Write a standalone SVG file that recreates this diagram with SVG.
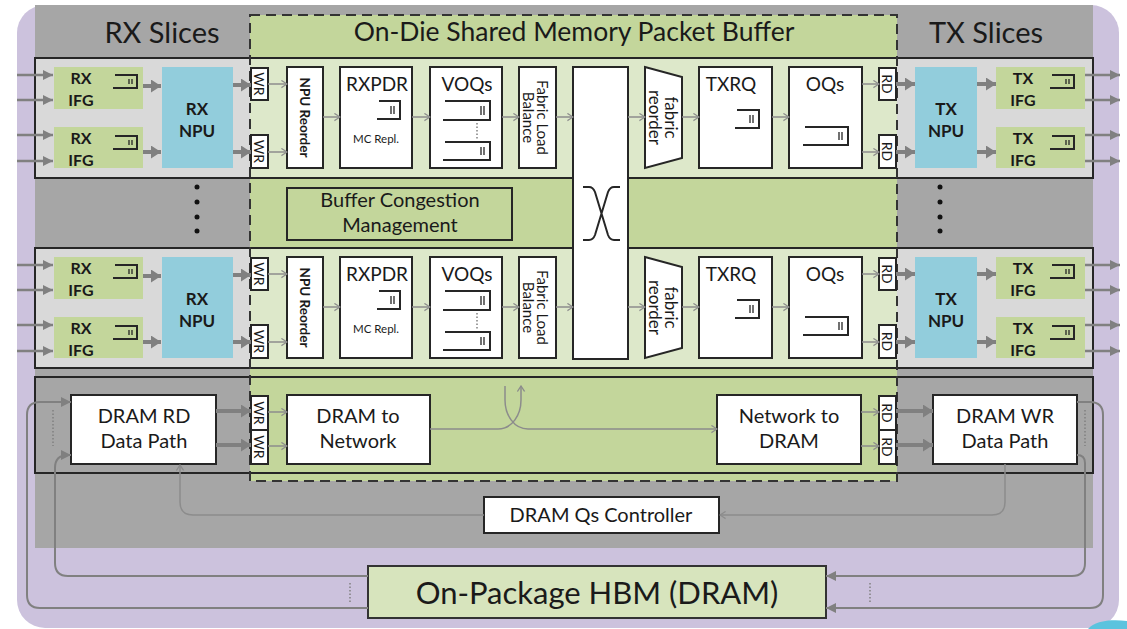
<svg xmlns="http://www.w3.org/2000/svg" width="1127" height="629" viewBox="0 0 1127 629">
<defs>
<style>
.t{font-family:Lato,"Liberation Sans",sans-serif;fill:#1a1a1a;text-anchor:middle}
.b{font-weight:bold}
.box{fill:#fff;stroke:#262626;stroke-width:2}
.ifg{fill:#c3d69b}
.npu{fill:#92cddc}
.q{fill:none;stroke:#262626;stroke-width:2}
.qb{fill:none;stroke:#262626;stroke-width:1.3}
.thick{fill:none;stroke:#808080;stroke-width:4;marker-end:url(#ah)}
.io{fill:none;stroke:#808080;stroke-width:2.5;marker-end:url(#ah2)}
.thin{fill:none;stroke:#8c8c8c;stroke-width:1.5;marker-end:url(#ch)}
.hbm{fill:none;stroke:#808080;stroke-width:2;marker-end:url(#ah2)}
.dot{fill:none;stroke:#808080;stroke-width:1.5;stroke-dasharray:1.5 2}
</style>
<marker id="ah" viewBox="0 0 10 10" refX="10" refY="5" markerWidth="10" markerHeight="13" markerUnits="userSpaceOnUse" orient="auto" preserveAspectRatio="none"><path d="M0,0 L10,5 L0,10 Z" fill="#808080"/></marker>
<marker id="ah2" viewBox="0 0 10 10" refX="10" refY="5" markerWidth="10" markerHeight="10" markerUnits="userSpaceOnUse" orient="auto" preserveAspectRatio="none"><path d="M0,0 L10,5 L0,10 Z" fill="#808080"/></marker>
<marker id="ch" viewBox="0 0 10 10" refX="9" refY="5" markerWidth="7" markerHeight="9" markerUnits="userSpaceOnUse" orient="auto" preserveAspectRatio="none"><path d="M1,1 L9,5 L1,9" fill="none" stroke="#8c8c8c" stroke-width="1.5"/></marker>
</defs>

<g id="background">
<rect x="0" y="0" width="1127" height="629" fill="#fff"/>
<rect x="17" y="5" width="1102" height="623" rx="28" fill="#ccc2dd"/>
<path d="M1088,629 C1095,621 1110,619 1127,621 V629 Z" fill="#5bc3de"/>
<rect x="35" y="5" width="1058" height="543" fill="#a6a6a6"/>
<rect x="250" y="15" width="647" height="466" fill="#c3d69b"/>
<rect x="35" y="58" width="215" height="120" fill="#d9d9d9"/>
<rect x="250" y="58" width="647" height="120" fill="#dde8ca"/>
<rect x="897" y="58" width="196" height="120" fill="#d9d9d9"/>
<rect x="35" y="58" width="1058" height="120" fill="none" stroke="#262626" stroke-width="2"/>
<rect x="35" y="248" width="215" height="120" fill="#d9d9d9"/>
<rect x="250" y="248" width="647" height="120" fill="#dde8ca"/>
<rect x="897" y="248" width="196" height="120" fill="#d9d9d9"/>
<rect x="35" y="248" width="1058" height="120" fill="none" stroke="#262626" stroke-width="2"/>
<rect x="35" y="377" width="1058" height="96" fill="none" stroke="#262626" stroke-width="2"/>
<rect x="250" y="15" width="647" height="466" fill="none" stroke="#333" stroke-width="2" stroke-dasharray="10 6"/>
<text class="t" x="162" y="43" font-size="29">RX Slices</text>
<text class="t" x="574" y="41" font-size="26.5">On-Die Shared Memory Packet Buffer</text>
<text class="t" x="986" y="43" font-size="29">TX Slices</text>
<g fill="#111">
<circle cx="197" cy="187" r="2.5"/><circle cx="197" cy="202" r="2.5"/><circle cx="197" cy="217" r="2.5"/><circle cx="197" cy="231" r="2.5"/>
<circle cx="940" cy="187" r="2.5"/><circle cx="940" cy="202" r="2.5"/><circle cx="940" cy="217" r="2.5"/><circle cx="940" cy="231" r="2.5"/>
</g>
</g>

<g id="rx-ifg-1a"><rect class="ifg" x="54" y="67" width="89" height="42"/><text class="t b" x="81" y="84" font-size="16">RX</text><text class="t b" x="81" y="106" font-size="16">IFG</text><path class="q" d="M115,75 H137 V88 H113"/><path class="qb" d="M129,79 V84 M132,79 V84"/></g>
<g id="rx-ifg-1b"><rect class="ifg" x="54" y="127" width="89" height="41"/><text class="t b" x="81" y="144" font-size="16">RX</text><text class="t b" x="81" y="166" font-size="16">IFG</text><path class="q" d="M115,136 H137 V149 H113"/><path class="qb" d="M129,140 V145 M132,140 V145"/></g>
<g id="rx-npu-1"><rect class="npu" x="162" y="67" width="71" height="101"/><text class="t b" x="197" y="115" font-size="17">RX</text><text class="t b" x="197" y="137" font-size="17">NPU</text></g>
<g id="wr-1a"><rect class="box" x="251" y="68" width="17" height="32" stroke-width="1.5"/><text class="t" font-size="14" transform="translate(259.5,84) rotate(90)" dominant-baseline="central">WR</text></g>
<g id="wr-1b"><rect class="box" x="251" y="135" width="17" height="33" stroke-width="1.5"/><text class="t" font-size="14" transform="translate(259.5,151.5) rotate(90)" dominant-baseline="central">WR</text></g>
<g id="npu-reorder-1"><rect class="box" x="287" y="67" width="36" height="101"/><text class="t b" font-size="13.5" transform="translate(305,117.5) rotate(90)" dominant-baseline="central">NPU Reorder</text></g>
<g id="rxpdr-1"><rect class="box" x="340" y="67" width="72" height="101"/><text class="t" x="377" y="91" font-size="19">RXPDR</text><path class="q" d="M379,101 H400 V119 H377"/><path class="qb" d="M391,106 V114 M394,106 V114"/><text class="t" x="376" y="143" font-size="11.5">MC Repl.</text></g>
<g id="voqs-1"><rect class="box" x="430" y="67" width="72" height="101"/><text class="t" x="467" y="91" font-size="19">VOQs</text><path class="q" d="M445,101 H490 V120 H443"/><path class="qb" d="M481,106 V115 M484,106 V115"/><path class="dot" d="M477,123 V140" stroke="#333"/><path class="q" d="M445,142 H490 V160 H443"/><path class="qb" d="M481,147 V155 M484,147 V155"/></g>
<g id="fabric-lb-1"><rect class="box" x="519" y="67" width="37" height="101"/><text class="t" font-size="15" transform="translate(543,117.5) rotate(90)" dominant-baseline="central">Fabric Load</text><text class="t" font-size="15" transform="translate(529,117.5) rotate(90)" dominant-baseline="central">Balance</text></g>
<g id="fabric-reorder-1"><polygon points="645,67 682,77 682,158 645,168" fill="#fff" stroke="#262626" stroke-width="2"/><text class="t" font-size="17" transform="translate(671,117.5) rotate(90)" dominant-baseline="central">fabric</text><text class="t" font-size="17" transform="translate(655,117.5) rotate(90)" dominant-baseline="central">reorder</text></g>
<g id="txrq-1"><rect class="box" x="699" y="67" width="73" height="101"/><text class="t" x="731" y="91" font-size="19">TXRQ</text><path class="q" d="M737,110 H759 V128 H735"/><path class="qb" d="M750,115 V123 M753,115 V123"/></g>
<g id="oqs-1"><rect class="box" x="789" y="67" width="73" height="101"/><text class="t" x="825" y="91" font-size="19">OQs</text><path class="q" d="M805,127 H848 V145 H803"/><path class="qb" d="M839,132 V140 M842,132 V140"/></g>
<g id="rd-1a"><rect class="box" x="879" y="68" width="17" height="32" stroke-width="1.5"/><text class="t" font-size="14" transform="translate(887.5,84) rotate(90)" dominant-baseline="central">RD</text></g>
<g id="rd-1b"><rect class="box" x="879" y="135" width="17" height="33" stroke-width="1.5"/><text class="t" font-size="14" transform="translate(887.5,151.5) rotate(90)" dominant-baseline="central">RD</text></g>
<g id="tx-npu-1"><rect class="npu" x="915" y="67" width="62" height="101"/><text class="t b" x="946" y="115" font-size="17">TX</text><text class="t b" x="946" y="137" font-size="17">NPU</text></g>
<g id="tx-ifg-1a"><rect class="ifg" x="996" y="67" width="89" height="42"/><text class="t b" x="1023" y="84" font-size="16">TX</text><text class="t b" x="1023" y="106" font-size="16">IFG</text><path class="q" d="M1052,75 H1074 V88 H1050"/><path class="qb" d="M1066,79 V84 M1069,79 V84"/></g>
<g id="tx-ifg-1b"><rect class="ifg" x="996" y="127" width="89" height="41"/><text class="t b" x="1023" y="144" font-size="16">TX</text><text class="t b" x="1023" y="166" font-size="16">IFG</text><path class="q" d="M1052,136 H1074 V149 H1050"/><path class="qb" d="M1066,140 V145 M1069,140 V145"/></g>

<g id="rx-ifg-2a" transform="translate(0,190)"><rect class="ifg" x="54" y="67" width="89" height="42"/><text class="t b" x="81" y="84" font-size="16">RX</text><text class="t b" x="81" y="106" font-size="16">IFG</text><path class="q" d="M115,75 H137 V88 H113"/><path class="qb" d="M129,79 V84 M132,79 V84"/></g>
<g id="rx-ifg-2b" transform="translate(0,190)"><rect class="ifg" x="54" y="127" width="89" height="41"/><text class="t b" x="81" y="144" font-size="16">RX</text><text class="t b" x="81" y="166" font-size="16">IFG</text><path class="q" d="M115,136 H137 V149 H113"/><path class="qb" d="M129,140 V145 M132,140 V145"/></g>
<g id="rx-npu-2" transform="translate(0,190)"><rect class="npu" x="162" y="67" width="71" height="101"/><text class="t b" x="197" y="115" font-size="17">RX</text><text class="t b" x="197" y="137" font-size="17">NPU</text></g>
<g id="wr-2a" transform="translate(0,190)"><rect class="box" x="251" y="68" width="17" height="32" stroke-width="1.5"/><text class="t" font-size="14" transform="translate(259.5,84) rotate(90)" dominant-baseline="central">WR</text></g>
<g id="wr-2b" transform="translate(0,190)"><rect class="box" x="251" y="135" width="17" height="33" stroke-width="1.5"/><text class="t" font-size="14" transform="translate(259.5,151.5) rotate(90)" dominant-baseline="central">WR</text></g>
<g id="npu-reorder-2" transform="translate(0,190)"><rect class="box" x="287" y="67" width="36" height="101"/><text class="t b" font-size="13.5" transform="translate(305,117.5) rotate(90)" dominant-baseline="central">NPU Reorder</text></g>
<g id="rxpdr-2" transform="translate(0,190)"><rect class="box" x="340" y="67" width="72" height="101"/><text class="t" x="377" y="91" font-size="19">RXPDR</text><path class="q" d="M379,101 H400 V119 H377"/><path class="qb" d="M391,106 V114 M394,106 V114"/><text class="t" x="376" y="143" font-size="11.5">MC Repl.</text></g>
<g id="voqs-2" transform="translate(0,190)"><rect class="box" x="430" y="67" width="72" height="101"/><text class="t" x="467" y="91" font-size="19">VOQs</text><path class="q" d="M445,101 H490 V120 H443"/><path class="qb" d="M481,106 V115 M484,106 V115"/><path class="dot" d="M477,123 V140" stroke="#333"/><path class="q" d="M445,142 H490 V160 H443"/><path class="qb" d="M481,147 V155 M484,147 V155"/></g>
<g id="fabric-lb-2" transform="translate(0,190)"><rect class="box" x="519" y="67" width="37" height="101"/><text class="t" font-size="15" transform="translate(543,117.5) rotate(90)" dominant-baseline="central">Fabric Load</text><text class="t" font-size="15" transform="translate(529,117.5) rotate(90)" dominant-baseline="central">Balance</text></g>
<g id="fabric-reorder-2" transform="translate(0,190)"><polygon points="645,67 682,77 682,158 645,168" fill="#fff" stroke="#262626" stroke-width="2"/><text class="t" font-size="17" transform="translate(671,117.5) rotate(90)" dominant-baseline="central">fabric</text><text class="t" font-size="17" transform="translate(655,117.5) rotate(90)" dominant-baseline="central">reorder</text></g>
<g id="txrq-2" transform="translate(0,190)"><rect class="box" x="699" y="67" width="73" height="101"/><text class="t" x="731" y="91" font-size="19">TXRQ</text><path class="q" d="M737,110 H759 V128 H735"/><path class="qb" d="M750,115 V123 M753,115 V123"/></g>
<g id="oqs-2" transform="translate(0,190)"><rect class="box" x="789" y="67" width="73" height="101"/><text class="t" x="825" y="91" font-size="19">OQs</text><path class="q" d="M805,127 H848 V145 H803"/><path class="qb" d="M839,132 V140 M842,132 V140"/></g>
<g id="rd-2a" transform="translate(0,190)"><rect class="box" x="879" y="68" width="17" height="32" stroke-width="1.5"/><text class="t" font-size="14" transform="translate(887.5,84) rotate(90)" dominant-baseline="central">RD</text></g>
<g id="rd-2b" transform="translate(0,190)"><rect class="box" x="879" y="135" width="17" height="33" stroke-width="1.5"/><text class="t" font-size="14" transform="translate(887.5,151.5) rotate(90)" dominant-baseline="central">RD</text></g>
<g id="tx-npu-2" transform="translate(0,190)"><rect class="npu" x="915" y="67" width="62" height="101"/><text class="t b" x="946" y="115" font-size="17">TX</text><text class="t b" x="946" y="137" font-size="17">NPU</text></g>
<g id="tx-ifg-2a" transform="translate(0,190)"><rect class="ifg" x="996" y="67" width="89" height="42"/><text class="t b" x="1023" y="84" font-size="16">TX</text><text class="t b" x="1023" y="106" font-size="16">IFG</text><path class="q" d="M1052,75 H1074 V88 H1050"/><path class="qb" d="M1066,79 V84 M1069,79 V84"/></g>
<g id="tx-ifg-2b" transform="translate(0,190)"><rect class="ifg" x="996" y="127" width="89" height="41"/><text class="t b" x="1023" y="144" font-size="16">TX</text><text class="t b" x="1023" y="166" font-size="16">IFG</text><path class="q" d="M1052,136 H1074 V149 H1050"/><path class="qb" d="M1066,140 V145 M1069,140 V145"/></g>

<g id="crossbar"><rect class="box" x="573" y="67" width="55" height="292"/><path d="M583,187 H589 Q593,187 595,192 L608,235 Q610,240 614,240 H620 M620,187 H614 Q610,187 608,192 L595,235 Q593,240 589,240 H583" fill="none" stroke="#262626" stroke-width="2"/></g>
<g id="buffer-congestion"><rect x="287" y="188" width="225" height="52" fill="#c3d69b" stroke="#262626" stroke-width="2"/><text class="t" x="400" y="207" font-size="20">Buffer Congestion</text><text class="t" x="400" y="232" font-size="20">Management</text></g>

<g id="dram-rd"><rect class="box" x="71" y="395" width="145" height="69"/><text class="t" x="144" y="423" font-size="20">DRAM RD</text><text class="t" x="144" y="448" font-size="20">Data Path</text></g>
<g id="wr-d1"><rect class="box" x="251" y="396" width="17" height="34" stroke-width="1.5"/><text class="t" font-size="14" transform="translate(259.5,413) rotate(90)" dominant-baseline="central">WR</text></g>
<g id="wr-d2"><rect class="box" x="251" y="430" width="17" height="34" stroke-width="1.5"/><text class="t" font-size="14" transform="translate(259.5,447) rotate(90)" dominant-baseline="central">WR</text></g>
<g id="dram-to-network"><rect class="box" x="287" y="395" width="143" height="69"/><text class="t" x="358" y="423" font-size="20">DRAM to</text><text class="t" x="358" y="448" font-size="20">Network</text></g>
<g id="network-to-dram"><rect class="box" x="717" y="395" width="144" height="69"/><text class="t" x="789" y="423" font-size="20">Network to</text><text class="t" x="789" y="448" font-size="20">DRAM</text></g>
<g id="rd-d1"><rect class="box" x="879" y="396" width="17" height="34" stroke-width="1.5"/><text class="t" font-size="14" transform="translate(887.5,413) rotate(90)" dominant-baseline="central">RD</text></g>
<g id="rd-d2"><rect class="box" x="879" y="430" width="17" height="34" stroke-width="1.5"/><text class="t" font-size="14" transform="translate(887.5,447) rotate(90)" dominant-baseline="central">RD</text></g>
<g id="dram-wr"><rect class="box" x="933" y="395" width="144" height="69"/><text class="t" x="1005" y="423" font-size="20">DRAM WR</text><text class="t" x="1005" y="448" font-size="20">Data Path</text></g>
<g id="dram-qs-controller"><rect class="box" x="484" y="497" width="235" height="36"/><text class="t" x="601" y="522" font-size="20">DRAM Qs Controller</text></g>
<g id="hbm"><rect x="368" y="566" width="458" height="52" fill="#d7e4bd" stroke="#333" stroke-width="2"/><text class="t" x="597" y="604" font-size="31">On-Package HBM (DRAM)</text></g>

<g id="connectors">
<g id="row1-conn">
<path class="io" d="M17,75 H53"/><path class="io" d="M17,100 H53"/><path class="io" d="M17,135 H53"/><path class="io" d="M17,161 H53"/>
<path class="thick" d="M143,86 H161"/><path class="thick" d="M143,152 H161"/>
<path class="thick" d="M233,85 H251"/><path class="thick" d="M233,152 H251"/>
<path class="thin" d="M268,84 H287"/><path class="thin" d="M268,152 H287"/>
<path class="thin" d="M323,117 H340"/><path class="thin" d="M412,117 H430"/><path class="thin" d="M502,117 H519"/><path class="thin" d="M556,117 H573"/>
<path class="thin" d="M628,117 H645"/><path class="thin" d="M682,117 H699"/><path class="thin" d="M772,117 H789"/>
<path class="thin" d="M862,84 H879"/><path class="thin" d="M862,152 H879"/>
<path class="thick" d="M896,84 H915"/><path class="thick" d="M896,152 H915"/>
<path class="thick" d="M977,84 H996"/><path class="thick" d="M977,152 H996"/>
<path class="io" d="M1085,75 H1120"/><path class="io" d="M1085,100 H1120"/><path class="io" d="M1085,135 H1120"/><path class="io" d="M1085,161 H1120"/>
</g>
<g id="row2-conn" transform="translate(0,190)">
<path class="io" d="M17,75 H53"/><path class="io" d="M17,100 H53"/><path class="io" d="M17,135 H53"/><path class="io" d="M17,161 H53"/>
<path class="thick" d="M143,86 H161"/><path class="thick" d="M143,152 H161"/>
<path class="thick" d="M233,85 H251"/><path class="thick" d="M233,152 H251"/>
<path class="thin" d="M268,84 H287"/><path class="thin" d="M268,152 H287"/>
<path class="thin" d="M323,117 H340"/><path class="thin" d="M412,117 H430"/><path class="thin" d="M502,117 H519"/><path class="thin" d="M556,117 H573"/>
<path class="thin" d="M628,117 H645"/><path class="thin" d="M682,117 H699"/><path class="thin" d="M772,117 H789"/>
<path class="thin" d="M862,84 H879"/><path class="thin" d="M862,152 H879"/>
<path class="thick" d="M896,84 H915"/><path class="thick" d="M896,152 H915"/>
<path class="thick" d="M977,84 H996"/><path class="thick" d="M977,152 H996"/>
<path class="io" d="M1085,75 H1120"/><path class="io" d="M1085,100 H1120"/><path class="io" d="M1085,135 H1120"/><path class="io" d="M1085,161 H1120"/>
</g>
<path class="thick" d="M216,411 H251"/><path class="thick" d="M216,445 H251"/>
<path class="thin" d="M268,412 H287"/><path class="thin" d="M268,446 H287"/>
<path class="thin" d="M430,429 H498 C512,429 521,415 521,400 V386"/>
<path class="thin" d="M505,386 V400 C505,415 514,429 528,429 H717"/>
<path class="thin" d="M861,412 H879"/><path class="thin" d="M861,446 H879"/>
<path class="thick" d="M896,411 H933"/><path class="thick" d="M896,445 H933"/>
<path class="thin" d="M484,515 H193 Q180,515 180,502 V465"/>
<path class="thin" d="M1005,464 V502 Q1005,515 992,515 H720"/>
<path class="hbm" d="M368,608 H40 Q27,608 27,595 V415 Q27,402 40,402 H71"/>
<path class="hbm" d="M368,576 H68 Q55,576 55,563 V468 Q55,455 68,455 H71"/>
<path class="hbm" d="M1077,402 H1090 Q1103,402 1103,415 V595 Q1103,608 1090,608 H826"/>
<path class="hbm" d="M1077,455 Q1085,455 1085,463 V563 Q1085,576 1072,576 H826"/>
<path class="dot" d="M53,410 V446 M1085,410 V446 M350,583 V602 M870,583 V602"/>
</g>
</svg>
